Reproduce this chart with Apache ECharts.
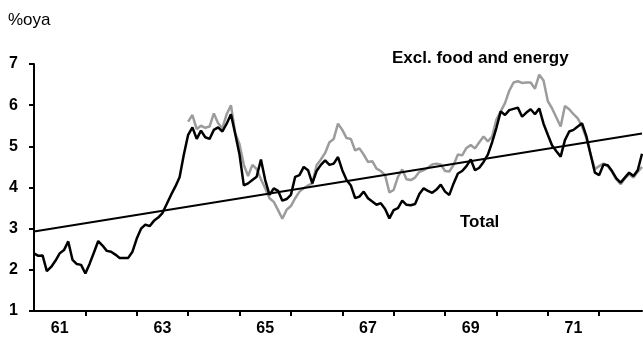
<!DOCTYPE html>
<html>
<head>
<meta charset="utf-8">
<script src="https://cdn.jsdelivr.net/npm/echarts@6/dist/echarts.min.js"></script>
<style>
  html, body { margin: 0; padding: 0; background: #fff; }
  #chart { width: 643px; height: 337px; }
</style>
</head>
<body>
<div id="chart"></div>
<script>
// Monthly inflation, % over year ago, Jan 1961 - Nov 1972
const years = ['61', '62', '63', '64', '65', '66', '67', '68', '69', '70', '71', '72'];
const monthsInLastYear = 11;
const yearLabels = ['61', '63', '65', '67', '69', '71'];
const yTicks = [1, 2, 3, 4, 5, 6, 7];

const total = [
  2.40, 2.34, 2.35, 1.97, 2.07, 2.22, 2.40, 2.48, 2.69, 2.24, 2.14, 2.12,
  1.91, 2.15, 2.42, 2.70, 2.59, 2.46, 2.44, 2.37, 2.29, 2.29, 2.29, 2.44,
  2.76, 3.00, 3.10, 3.06, 3.19, 3.27, 3.38, 3.60, 3.82, 4.02, 4.25, 4.80,
  5.28, 5.46, 5.18, 5.38, 5.22, 5.18, 5.40, 5.46, 5.36, 5.55, 5.78, 5.30,
  4.80, 4.05, 4.10, 4.18, 4.26, 4.68, 4.18, 3.82, 3.98, 3.92, 3.68, 3.72,
  3.82, 4.26, 4.30, 4.50, 4.42, 4.10, 4.40, 4.55, 4.66, 4.55, 4.58, 4.74,
  4.42, 4.18, 4.05, 3.74, 3.78, 3.90, 3.74, 3.66, 3.58, 3.62, 3.48, 3.25,
  3.45, 3.50, 3.68, 3.58, 3.57, 3.60, 3.84, 3.98, 3.92, 3.87, 3.95, 4.07,
  3.90, 3.82, 4.10, 4.34, 4.40, 4.52, 4.68, 4.42, 4.48, 4.62, 4.80, 5.10,
  5.45, 5.85, 5.76, 5.88, 5.91, 5.94, 5.72, 5.82, 5.90, 5.78, 5.92, 5.55,
  5.28, 5.02, 4.88, 4.75, 5.15, 5.36, 5.40, 5.48, 5.56, 5.25, 4.80, 4.36,
  4.30, 4.56, 4.54, 4.40, 4.22, 4.12, 4.24, 4.36, 4.28, 4.42, 4.82
];

// Core measure starts in Jan 1964
const coreStart = 36;
const exFoodEnergy = [
  5.60, 5.76, 5.42, 5.50, 5.45, 5.48, 5.80, 5.56, 5.44, 5.78, 6.00, 5.32,
  5.05, 4.55, 4.28, 4.55, 4.45, 4.20, 3.98, 3.74, 3.65, 3.45, 3.24, 3.46,
  3.55, 3.74, 3.90, 3.98, 4.05, 4.10, 4.54, 4.68, 4.84, 5.10, 5.18, 5.55,
  5.40, 5.20, 5.18, 4.90, 4.95, 4.80, 4.62, 4.64, 4.46, 4.40, 4.30, 3.88,
  3.94, 4.26, 4.44, 4.20, 4.18, 4.24, 4.38, 4.42, 4.48, 4.56, 4.58, 4.56,
  4.40, 4.39, 4.55, 4.80, 4.78, 4.96, 5.03, 4.95, 5.10, 5.24, 5.12, 5.24,
  5.65, 5.85, 6.05, 6.35, 6.55, 6.58, 6.54, 6.55, 6.55, 6.40, 6.74, 6.60,
  6.10, 5.92, 5.70, 5.48, 5.98, 5.90, 5.78, 5.68, 5.48, 5.20, 4.80, 4.45,
  4.52, 4.58, 4.52, 4.38, 4.20, 4.08, 4.22, 4.32, 4.24, 4.38, 4.50
];

// Straight trend line: start and end values
const trendStart = 2.93;
const trendEnd = 5.31;

// Build month categories
const categories = [];
years.forEach((y, k) => {
  const n = k === years.length - 1 ? monthsInLastYear : 12;
  for (let m = 1; m <= n; m++) categories.push(y + '-' + String(m).padStart(2, '0'));
});

const coreSeries = categories.map((_, i) => (i < coreStart ? null : exFoodEnergy[i - coreStart]));
const trendSeries = categories.map((_, i) =>
  i === 0 ? trendStart : (i === categories.length - 1 ? trendEnd : null));

const FONT = '"Liberation Sans", Arial, sans-serif';

const chart = echarts.init(document.getElementById('chart'), null, { renderer: 'canvas' });
chart.setOption({
  animation: false,
  backgroundColor: '#ffffff',
  grid: { left: 34, right: 1, top: 64, bottom: 23 },
  xAxis: {
    type: 'category',
    data: categories,
    boundaryGap: false,
    axisLine: { show: true, lineStyle: { color: '#000', width: 2 } },
    axisTick: {
      show: true,
      length: 5,
      lineStyle: { color: '#000', width: 2 },
      interval: (idx) => idx > 0 && idx % 12 === 0
    },
    axisLabel: {
      show: true,
      margin: 10,
      color: '#000',
      fontFamily: FONT,
      fontWeight: 'bold',
      fontSize: 16,
      interval: (idx, val) => idx % 12 === 6 && yearLabels.includes(val.slice(0, 2)),
      formatter: (val) => val.slice(0, 2)
    },
    splitLine: { show: false }
  },
  yAxis: {
    type: 'value',
    min: yTicks[0],
    max: yTicks[yTicks.length - 1],
    interval: 1,
    axisLine: { show: true, lineStyle: { color: '#000', width: 2 } },
    axisTick: { show: true, length: 5, lineStyle: { color: '#000', width: 2 } },
    axisLabel: {
      margin: 16,
      color: '#000',
      fontFamily: FONT,
      fontWeight: 'bold',
      fontSize: 16
    },
    splitLine: { show: false }
  },
  series: [
    {
      name: 'Excl. food and energy',
      type: 'line',
      data: coreSeries,
      symbol: 'none',
      lineStyle: { color: '#9c9c9c', width: 2.5 },
      z: 2
    },
    {
      name: 'Total',
      type: 'line',
      data: total,
      symbol: 'none',
      lineStyle: { color: '#000000', width: 2.5 },
      z: 3
    },
    {
      name: 'Trend',
      type: 'line',
      data: trendSeries,
      connectNulls: true,
      symbol: 'none',
      lineStyle: { color: '#000000', width: 2 },
      z: 4
    }
  ],
  graphic: [
    {
      type: 'text',
      left: 8,
      top: 12,
      style: { text: '%oya', fill: '#000', font: '17px ' + FONT }
    },
    {
      type: 'text',
      left: 392,
      top: 50,
      style: { text: 'Excl. food and energy', fill: '#000', font: 'bold 17px ' + FONT }
    },
    {
      type: 'text',
      left: 460,
      top: 214,
      style: { text: 'Total', fill: '#000', font: 'bold 17px ' + FONT }
    }
  ]
});
</script>
</body>
</html>
